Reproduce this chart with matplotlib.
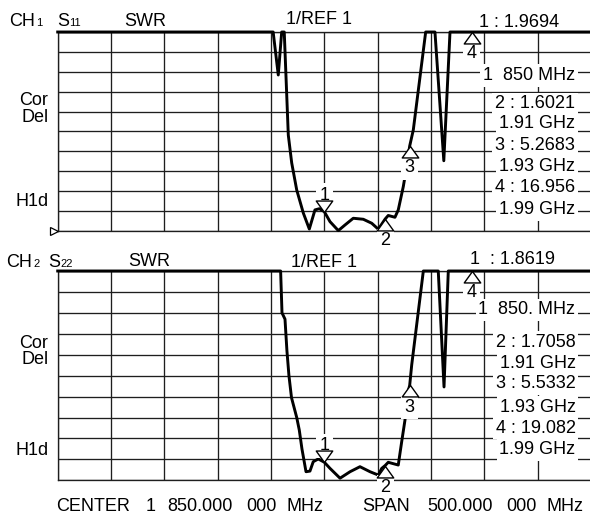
import numpy as np
import matplotlib
matplotlib.use("Agg")
import matplotlib.pyplot as plt
from matplotlib.path import Path
from matplotlib.transforms import ScaledTranslation

# ---- sweep setup (CENTER 1 850 MHz, SPAN 500 MHz, SWR 1/div, ref 1 at bottom)
center_mhz = 1850.0
span_mhz = 500.0
swr_ref = 1.0
swr_per_div = 1.0
n_xdiv = 10
n_ydiv = 10

# ---- CH1 : S11 SWR trace (values above the top line are off-scale)
s11_freq = [1600, 1700, 1795, 1802.0, 1806.8, 1810.0, 1812.4, 1816.2, 1819.4,
            1824.1, 1830.3, 1835.9, 1841.2, 1845.3, 1850.0, 1855.3, 1863.1,
            1869.3, 1877.1, 1886.5, 1894.4, 1900.6, 1907.0, 1909.9, 1916.2,
            1919.3, 1924.0, 1927.2, 1930.0, 1933.4, 1945.0, 1950.0, 1953.7,
            1962.0, 1967.8, 1988.0, 2050, 2100]
s11_swr = [25.0, 22.0, 14.0, 11.5, 8.84, 12.0, 11.3, 5.82, 4.42,
           3.06, 1.90, 1.10, 2.06, 2.12, 1.9694, 1.47, 1.02,
           1.30, 1.64, 1.59, 1.39, 1.09, 1.6021, 1.78, 1.69,
           2.06, 3.23, 4.23, 5.2683, 6.08, 11.3, 14.0, 11.5,
           4.53, 11.4, 16.956, 22.0, 25.0]

# ---- CH2 : S22 SWR trace
s22_freq = [1600, 1700, 1800, 1809.0, 1810.3, 1813.1, 1814.9, 1816.8, 1819.2,
            1824.1, 1826.5, 1829.0, 1832.8, 1836.5, 1839.6, 1844.3, 1850.0,
            1855.3, 1864.7, 1874.1, 1883.4, 1892.8, 1900.6, 1903.8, 1907.0,
            1909.9, 1919.3, 1922.5, 1925.6, 1927.2, 1930.0, 1931.9, 1942.8,
            1950.0, 1956.8, 1962.2, 1966.2, 1988.0, 2050, 2100]
s22_swr = [25.0, 22.0, 15.0, 11.5, 9.0, 8.7, 7.2, 6.0, 4.95,
           4.0, 3.4, 2.5, 1.41, 1.44, 1.89, 2.02, 1.8619,
           1.57, 1.10, 1.41, 1.65, 1.41, 1.25, 1.57, 1.7058,
           1.86, 1.73, 2.84, 3.88, 5.0, 5.5332, 6.51, 11.3,
           14.0, 11.4, 5.46, 11.3, 19.082, 22.0, 25.0]

# ---- markers
marker_ids = ["1", "2", "3", "4"]
marker_freq = [1850.0, 1907.0, 1930.0, 1988.0]
s11_marker_swr = [1.9694, 1.6021, 5.2683, 16.956]
s22_marker_swr = [1.8619, 1.7058, 5.5332, 19.082]

# ---- figure / layout helpers (pixel based)
W, H, DPI = 590, 514, 100
FONT = ["Liberation Sans", "DejaVu Sans"]
FS = 13
FS_SUB = 8
GRID_C = "#1e1e1e"
GRID_LW = 0.95
TRI_MS = 16.5

plt.rcParams["font.family"] = FONT
fig = plt.figure(figsize=(W / DPI, H / DPI), dpi=DPI)
fig.patch.set_facecolor("white")


def fx(px):
    return px / W


def fy(py):
    return 1.0 - py / H


def put(x, baseline, s, size=FS, ha="left", box=False, z=4):
    kw = {}
    if box:
        kw["bbox"] = dict(boxstyle="square,pad=0.15", facecolor="white",
                          edgecolor="none")
    fig.text(fx(x), fy(baseline), s, fontsize=size, ha=ha, va="baseline",
             color="black", zorder=z, **kw)


x_lo = center_mhz - span_mhz / 2
x_hi = center_mhz + span_mhz / 2
y_lo = swr_ref
y_hi = swr_ref + n_ydiv * swr_per_div

tri_down = Path([(0, 0), (-0.72, 1), (0.72, 1), (0, 0)],
                [Path.MOVETO, Path.LINETO, Path.LINETO, Path.CLOSEPOLY])
tri_up = Path([(0, 0), (-0.72, -1), (0.72, -1), (0, 0)],
              [Path.MOVETO, Path.LINETO, Path.LINETO, Path.CLOSEPOLY])


def panel(rect, freq, swr, m_swr):
    ax = fig.add_axes(rect)
    ax.set_xlim(x_lo, x_hi)
    ax.set_ylim(y_lo, y_hi)
    ax.set_xticks(np.linspace(x_lo, x_hi, n_xdiv + 1))
    ax.set_yticks(np.linspace(y_lo, y_hi, n_ydiv + 1))
    ax.tick_params(length=0, labelbottom=False, labelleft=False)
    ax.grid(True, color=GRID_C, lw=GRID_LW)
    for sp in ax.spines.values():
        sp.set_color(GRID_C)
        sp.set_linewidth(GRID_LW)
    ax.spines["right"].set_visible(False)
    ax.set_facecolor("white")

    # trace, pinned to the top line when off-scale
    ax.plot(freq, np.minimum(swr, y_hi), color="black", lw=2.1,
            clip_on=False, zorder=3)

    for mid, f, v in zip(marker_ids, marker_freq, m_swr):
        vv = min(v, y_hi)
        if mid == "1":
            shape, off = tri_down, 8.6
        else:
            shape, off = tri_up, -19.0
        ax.annotate(mid, xy=(f, vv), xytext=(0, off), textcoords="offset points",
                    ha="center", va="baseline", fontsize=FS, zorder=6,
                    annotation_clip=False,
                    bbox=dict(boxstyle="square,pad=0.2", facecolor="white",
                              edgecolor="none"))
        ax.plot([f], [vv], marker=shape, ms=TRI_MS, mfc="white",
                mec="black", mew=1.0, ls="none", clip_on=False, zorder=7)
    return ax


div_px = 53.33
ax1 = panel([fx(57.7), fy(231), n_xdiv * div_px / W, 199 / H],
            s11_freq, s11_swr, s11_marker_swr)
ax2 = panel([fx(57.7), fy(480.3), n_xdiv * div_px / W, 209.3 / H],
            s22_freq, s22_swr, s22_marker_swr)

# reference-position pointer on the left of CH1
ax1.plot([x_lo], [y_lo], marker=">", ms=5.5, mfc="white", mec="black",
         mew=0.9, ls="none", clip_on=False, zorder=5,
         transform=ax1.transData + ScaledTranslation(-4 / DPI, 0,
                                                     fig.dpi_scale_trans))


def fmt_val(v):
    return f"{v:.5g}"


def fmt_mhz(f):
    return f"{int(f) // 1000}  {int(f) % 1000:03d}"


def fmt_ghz(f):
    return f"{f / 1000:.2f} GHz"


# ---- CH1 header and annotations
put(9, 26, "CH")
put(36.5, 26, "1", FS_SUB)
put(57.5, 26, "S")
put(68.8, 26, "11", FS_SUB)
put(124, 26, "SWR")
put(286, 24, f"{int(swr_per_div)}/REF {int(swr_ref)}")
put(479, 27.3, f"1 : {fmt_val(s11_marker_swr[0])}")
put(48.5, 105, "Cor", ha="right")
put(48.5, 121.7, "Del", ha="right")
put(48.5, 206, "H1d", ha="right")

top_rows = [fmt_mhz(marker_freq[0]) + " MHz",
            f"2 : {fmt_val(s11_marker_swr[1])}", fmt_ghz(marker_freq[1]),
            f"3 : {fmt_val(s11_marker_swr[2])}", fmt_ghz(marker_freq[2]),
            f"4 : {fmt_val(s11_marker_swr[3])}", fmt_ghz(marker_freq[3])]
top_base = [80, 108.3, 128.5, 149.5, 171.2, 192.5, 214]
for s, b in zip(top_rows, top_base):
    put(575, b, s, ha="right", box=True)

# ---- CH2 header and annotations
put(6, 266.7, "CH")
put(33.5, 266.7, "2", FS_SUB)
put(48.5, 266.7, "S")
put(60, 266.7, "22", FS_SUB)
put(128, 266.5, "SWR")
put(291, 266.7, f"{int(swr_per_div)}/REF {int(swr_ref)}")
put(470.5, 264, f"1  : {fmt_val(s22_marker_swr[0])}")
put(48.5, 348.3, "Cor", ha="right")
put(48.5, 364.3, "Del", ha="right")
put(48.5, 455, "H1d", ha="right")

bot_rows = [fmt_mhz(marker_freq[0]) + ". MHz",
            f"2 : {fmt_val(s22_marker_swr[1])}", fmt_ghz(marker_freq[1]),
            f"3 : {fmt_val(s22_marker_swr[2])}", fmt_ghz(marker_freq[2]),
            f"4 : {fmt_val(s22_marker_swr[3])}", fmt_ghz(marker_freq[3])]
bot_base = [314.3, 346.7, 367.7, 388.5, 411.7, 432.7, 454]
for s, b in zip(bot_rows, bot_base):
    put(575.5, b, s, ha="right", box=True)

# ---- sweep footer
center_words = ["CENTER", "1", "850.000", "000", "MHz"]
center_x = [55.8, 146.0, 167.3, 246.0, 287.0]
span_words = ["SPAN", "500.000", "000", "MHz"]
span_x = [361.8, 427.6, 506.0, 547.0]
for w, x in zip(center_words + span_words, center_x + span_x):
    put(x, 510.7, w)

fig.savefig("out.png", dpi=DPI, facecolor="white")
